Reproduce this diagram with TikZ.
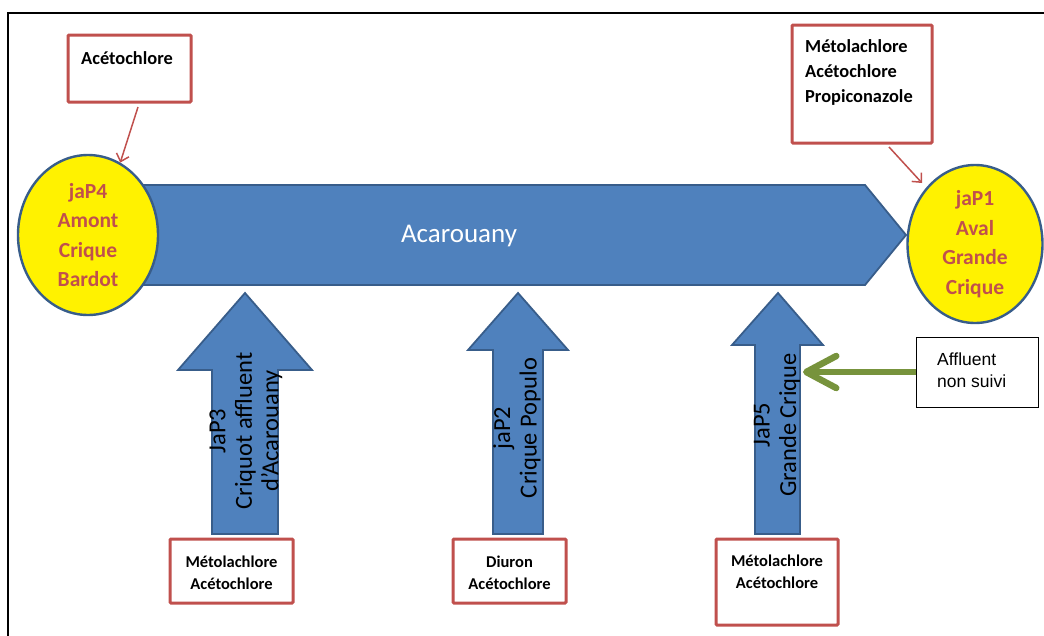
\documentclass[tikz,border=0pt]{standalone}
\usepackage{fontspec}
\setmainfont{Carlito}
\newfontfamily\arialf{Liberation Sans}
\usetikzlibrary{arrows.meta,shapes.geometric}
\definecolor{arrowblue}{HTML}{4F81BD}
\definecolor{arrowborder}{HTML}{385D8A}
\definecolor{boxred}{HTML}{C0504D}
\definecolor{olivegreen}{HTML}{77933C}
\tikzset{
  bluearrow/.style={fill=arrowblue, draw=arrowborder, line width=1.8pt, line join=miter},
  station/.style={ellipse, fill=yellow, draw=arrowborder, line width=2.4pt, inner sep=0pt,
    text=boxred, font=\bfseries\fontsize{21.5}{29.5}\selectfont, align=center},
  redbox/.style={rectangle, draw=boxred, line width=3pt, rounded corners=1pt, fill=white, inner sep=0pt},
  boxtext/.style={inner sep=0pt, font=\bfseries\fontsize{16.5}{21.5}\selectfont, align=center},
  toptext/.style={inner sep=0pt, font=\bfseries\fontsize{18.4}{25}\selectfont, align=left},
  rivertext/.style={inner sep=0pt, rotate=90, font=\fontsize{24.5}{26.5}\selectfont, align=center},
  redarrow/.style={draw=boxred, line width=1.5pt, -{Straight Barb[length=7pt,width=13pt]}},
  greenarrow/.style={draw=olivegreen, line width=6.5pt, -{Straight Barb[length=30pt,width=32pt,round]}},
}
\begin{document}
\begin{tikzpicture}[x=1pt,y=-1pt]
\useasboundingbox (0,0) rectangle (1044,635);
% frame
\draw[line width=1.3pt] (8,640) -- (8,13) -- (1050,13);

% main river arrow
\draw[bluearrow] (120,185) -- (865,185) -- (906,235) -- (865,285) -- (120,285) -- cycle;
\node[inner sep=0pt, text=white, font=\fontsize{27}{32}\selectfont] (acarouany) at (459,236) {Acarouany};

% stations
\node[station, minimum width=140pt, minimum height=160pt] (jap4) at (88,235) {jaP4\\Amont\\Crique\\Bardot};
\node[station, minimum width=135pt, minimum height=158pt] (jap1) at (975,244) {jaP1\\Aval\\Grande\\Crique};

% tributary arrows
\draw[bluearrow] (245,293) -- (312,370) -- (278,370) -- (278,534) -- (212,534) -- (212,370) -- (178,370) -- cycle;
\draw[bluearrow] (518,293) -- (568,350) -- (543,350) -- (543,534) -- (493,534) -- (493,350) -- (468,350) -- cycle;
\draw[bluearrow] (778,293) -- (823,345) -- (800,345) -- (800,534) -- (755,534) -- (755,345) -- (732,345) -- cycle;
\node[rivertext] (t3) at (246,431) {JaP3\\Criquot affluent\\d'Acarouany};
\node[rivertext] (t2) at (517,428) {jaP2\\Crique Populo};
\node[rivertext] (t5) at (777,425) {JaP5\\Grande Crique};

% top boxes
\node[redbox, minimum width=123pt, minimum height=67pt] (boxA) at (129.5,68.5) {};
\node[toptext, anchor=west] (boxAt) at (81,58) {Acétochlore};
\node[redbox, minimum width=140pt, minimum height=118pt] (boxB) at (862,84) {};
\node[toptext, anchor=north west] (boxBt) at (805,39) {Métolachlore\\Acétochlore\\Propiconazole};

% bottom boxes
\node[redbox, minimum width=123pt, minimum height=64pt] (box3) at (231.5,571) {};
\node[boxtext] (box3t) at (231.5,573) {Métolachlore\\Acétochlore};
\node[redbox, minimum width=113pt, minimum height=64pt] (box2) at (509.5,571) {};
\node[boxtext] (box2t) at (509.5,573) {Diuron\\Acétochlore};
\node[redbox, minimum width=122pt, minimum height=86pt] (box5) at (777,582) {};
\node[boxtext] (box5t) at (777,572) {Métolachlore\\Acétochlore};

% affluent box
\node[rectangle, draw=black, line width=1pt, minimum width=122pt, minimum height=70pt, inner sep=0pt] (aff) at (977,372) {};
\node[inner sep=0pt, anchor=west, align=left, font=\arialf\fontsize{17.5}{21.5}\selectfont] (afft) at (937,370) {Affluent\\non suivi};

% connectors
\coordinate (a1) at (138,107);
\coordinate (b1) at (889,147);
\coordinate (b2) at (922,183);
\coordinate (g1) at (803,372);
\draw[redarrow] (a1) -- (jap4.66);
\draw[redarrow] (b1) -- (b2);
\draw[greenarrow] (aff.west) -- (g1);
\end{tikzpicture}
\end{document}
